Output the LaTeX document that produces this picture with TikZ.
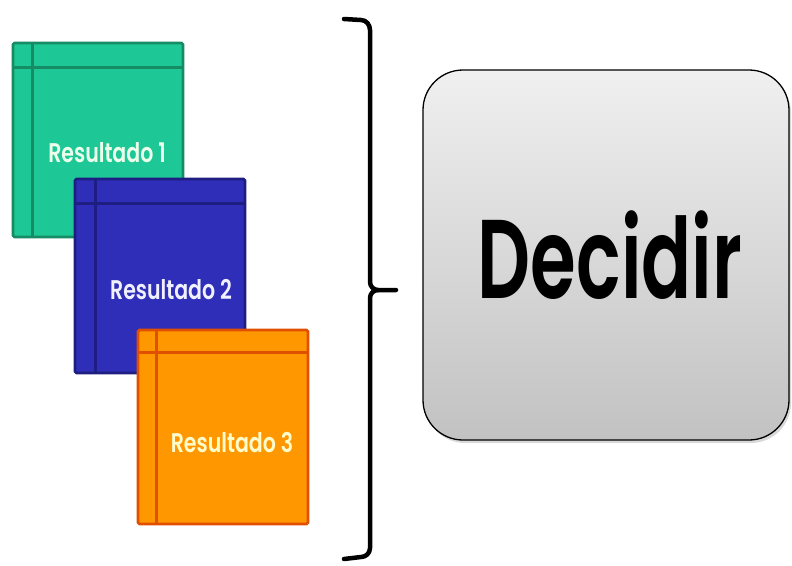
\documentclass[tikz,border=0pt]{standalone}
\usepackage{fontspec}
\usepackage{tikz}
\usetikzlibrary{shapes.geometric, arrows, shadows, positioning}
\newfontfamily\gothic[FakeStretch=0.76, UprightFont=* SemiBold]{Poppins}
\newfontfamily\gothicwide[FakeStretch=0.66, UprightFont=* SemiBold]{Poppins}
\definecolor{resgreen}{RGB}{30,200,150}
\definecolor{resgreenline}{RGB}{22,140,100}
\definecolor{resblue}{RGB}{46,46,184}
\definecolor{resblueline}{RGB}{30,30,130}
\definecolor{resorange}{RGB}{255,152,0}
\definecolor{resorangeline}{RGB}{225,80,0}
\tikzstyle{result} = [rectangle, rounded corners=1.5pt, minimum width=170pt, minimum height=194pt, line width=2.8pt, inner sep=0pt]
\tikzstyle{restext} = [font=\gothic\fontsize{27}{30}\selectfont]
\tikzstyle{decision} = [rectangle, rounded corners=40pt, minimum width=366pt, minimum height=370pt, draw=black, line width=1.3pt, top color=gray!12, bottom color=gray!48, drop shadow={opacity=0.3, shadow xshift=2pt, shadow yshift=-3pt}, font=\gothicwide\fontsize{112}{120}\selectfont]
\tikzstyle{brace} = [line width=4.5pt, line cap=round, line join=round]

\begin{document}
\begin{tikzpicture}[x=1pt, y=-1pt]
        \useasboundingbox (0,0) rectangle (792,565);
        % Nodes
        \node (res1) [result, fill=resgreen, draw=resgreenline] at (98,140) {};
        \draw [resgreenline, line width=3pt] ([xshift=21pt]res1.north west) -- ([xshift=21pt]res1.south west);
        \draw [resgreenline, line width=3pt] ([yshift=-26pt]res1.north west) -- ([yshift=-26pt]res1.north east);
        \node (lab1) [restext, text=green!8] at ([shift={(9pt,-13pt)}]res1.center) {Resultado 1};

        \node (res2) [result, fill=resblue, draw=resblueline] at (160,276) {};
        \draw [resblueline, line width=3pt] ([xshift=22pt]res2.north west) -- ([xshift=22pt]res2.south west);
        \draw [resblueline, line width=3pt] ([yshift=-26pt]res2.north west) -- ([yshift=-26pt]res2.north east);
        \node (lab2) [restext, text=white!94!blue] at ([shift={(11pt,-14pt)}]res2.center) {Resultado 2};

        \node (res3) [result, fill=resorange, draw=resorangeline] at (223,427) {};
        \draw [resorangeline, line width=3pt] ([xshift=20pt]res3.north west) -- ([xshift=20pt]res3.south west);
        \draw [resorangeline, line width=3pt] ([yshift=-24pt]res3.north west) -- ([yshift=-24pt]res3.north east);
        \node (lab3) [restext, text=yellow!20] at ([shift={(9pt,-16pt)}]res3.center) {Resultado 3};

        \node (decide) [decision] at (606,255) {\hspace{8pt}Decidir};

        % Brace
        \coordinate (bracetop) at (344,19);
        \coordinate (bracebot) at (344,559);
        \coordinate (bracetip) at (396,290);
        \draw [brace] (bracetop) -- (361,20) to[out=0, in=90] (370,30) -- (370,282) to[out=-90, in=180] (378,290) -- (bracetip);
        \draw [brace] (bracebot) -- (361,557) to[out=0, in=-90] (370,548) -- (370,298) to[out=90, in=180] (378,290);
    \end{tikzpicture}
\end{document}
